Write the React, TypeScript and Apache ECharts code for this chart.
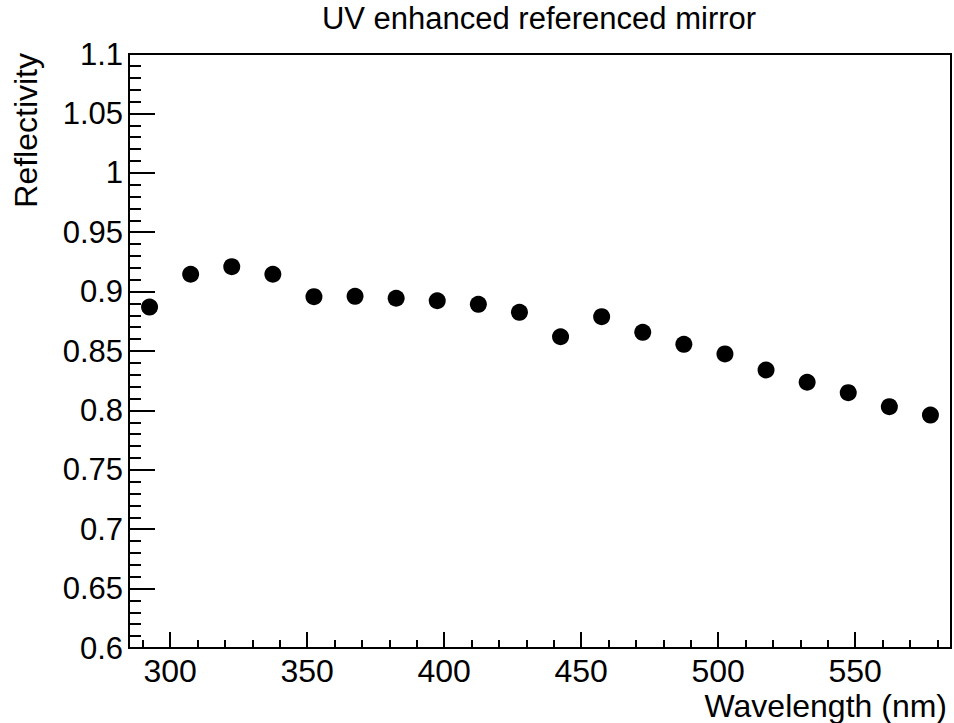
import React, { useEffect, useRef } from "react";
import * as echarts from "echarts";

const wavelengths = [292.5, 307.5, 322.5, 337.5, 352.5, 367.5, 382.5, 397.5, 412.5, 427.5, 442.5, 457.5, 472.5, 487.5, 502.5, 517.5, 532.5, 547.5, 562.5, 577.5];
const reflectivity = [0.887, 0.9146, 0.921, 0.9146, 0.8957, 0.896, 0.8944, 0.8923, 0.8893, 0.8826, 0.862, 0.8789, 0.8657, 0.8556, 0.8475, 0.834, 0.8237, 0.8149, 0.8031, 0.7961];
const xMajorTicks = [300, 350, 400, 450, 500, 550];
const xMinorTicks = [290, 310, 320, 330, 340, 360, 370, 380, 390, 410, 420, 430, 440, 460, 470, 480, 490, 510, 520, 530, 540, 560, 570, 580];
const xRange = [285, 585];
const yRange = [0.6, 1.1];
const yStep = 0.05;

const titleText = "UV enhanced referenced mirror";
const xTitle = "Wavelength (nm)";
const yTitle = "Reflectivity";

const FONT = "'Liberation Sans', Arial, Helvetica, sans-serif";

export default function App() {
  const ref = useRef<HTMLDivElement>(null);
  useEffect(() => {
    document.body.style.margin = "0";
    if (!ref.current) return;
    const chart = echarts.init(ref.current, undefined, { renderer: "svg" });
    const points = wavelengths.map((w, i) => [w, reflectivity[i]]);
    chart.setOption({
      animation: false,
      backgroundColor: "#ffffff",
      grid: {
        left: 129,
        right: 3,
        top: 54,
        bottom: 75,
        show: true,
        borderColor: "#000",
        borderWidth: 2,
        backgroundColor: "transparent",
      },
      xAxis: [
        {
          type: "value",
          min: xRange[0],
          max: xRange[1],
          position: "bottom",
          axisLine: { show: true, onZero: false, lineStyle: { color: "#000", width: 2 } },
          axisTick: { show: true, inside: true, length: 16, customValues: xMajorTicks, lineStyle: { color: "#000", width: 2 } },
          axisLabel: {
            show: true,
            customValues: xMajorTicks,
            margin: 7,
            color: "#000",
            fontSize: 32,
            fontFamily: FONT,
          },
          splitLine: { show: false },
        },
        {
          type: "value",
          min: xRange[0],
          max: xRange[1],
          position: "bottom",
          axisLine: { show: false },
          axisTick: { show: true, inside: true, length: 8, customValues: xMinorTicks, lineStyle: { color: "#000", width: 2 } },
          axisLabel: { show: false },
          splitLine: { show: false },
        },
      ],
      yAxis: {
        type: "value",
        min: yRange[0],
        max: yRange[1],
        interval: yStep,
        axisLine: { show: true, onZero: false, lineStyle: { color: "#000", width: 2 } },
        axisTick: { show: true, inside: true, length: 26, lineStyle: { color: "#000", width: 2 } },
        minorTick: { show: true, splitNumber: 5, length: 12, lineStyle: { color: "#000", width: 2 } },
        axisLabel: {
          margin: 6,
          color: "#000",
          fontSize: 31,
          fontFamily: FONT,
        },
        splitLine: { show: false },
        minorSplitLine: { show: false },
      },
      graphic: [
        {
          type: "text",
          x: 539,
          y: 18,
          style: {
            text: titleText,
            fontSize: 31,
            fontFamily: FONT,
            fill: "#000",
            align: "center",
            verticalAlign: "middle",
          },
        },
        {
          type: "text",
          x: 947,
          y: 706,
          style: {
            text: xTitle,
            fontSize: 32,
            fontFamily: FONT,
            fill: "#000",
            align: "right",
            verticalAlign: "middle",
          },
        },
        {
          type: "text",
          x: 26,
          y: 53,
          rotation: Math.PI / 2,
          style: {
            text: yTitle,
            fontSize: 32,
            fontFamily: FONT,
            fill: "#000",
            align: "right",
            verticalAlign: "middle",
          },
        },
      ],
      series: [
        {
          type: "scatter",
          xAxisIndex: 0,
          data: points,
          symbol: "circle",
          symbolSize: 17,
          itemStyle: { color: "#000", opacity: 1 },
        },
      ],
    });
    return () => chart.dispose();
  }, []);
  return <div ref={ref} style={{ width: 954, height: 723 }} />;
}
